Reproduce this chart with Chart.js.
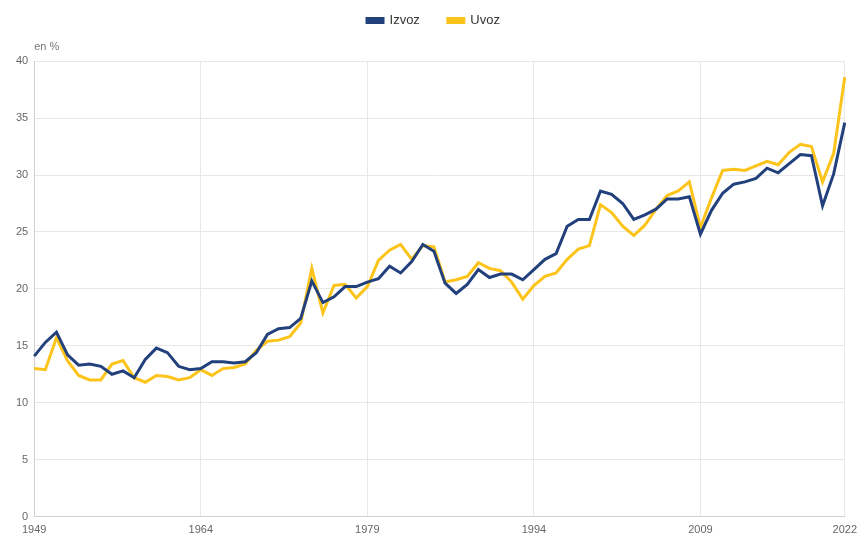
<!DOCTYPE html>
<html>
<head>
<meta charset="utf-8">
<script src="https://cdn.jsdelivr.net/npm/chart.js@4/dist/chart.umd.min.js"></script>
<style>
html,body{margin:0;padding:0;background:#fff;}
#wrap{width:857px;height:537px;}
</style>
</head>
<body>
<div id="wrap"><canvas id="c" width="857" height="537"></canvas></div>
<script>
const years = [];
for (let y = 1949; y <= 2022; y++) years.push(String(y));
const tickYears = ['1949','1964','1979','1994','2009','2022'];
const izvoz = [14.1,15.3,16.2,14.2,13.3,13.4,13.2,12.5,12.8,12.2,13.8,14.8,14.4,13.2,12.9,13.0,13.6,13.6,13.5,13.6,
14.4,16.0,16.5,16.6,17.4,20.7,18.8,19.3,20.2,20.2,20.6,20.9,22.0,21.4,22.4,23.9,23.3,20.5,19.6,20.4,
21.7,21.0,21.3,21.3,20.8,21.7,22.6,23.1,25.5,26.1,26.1,28.6,28.3,27.5,26.1,26.5,27.0,27.9,27.9,28.1,
24.8,26.9,28.4,29.2,29.4,29.7,30.6,30.2,31.0,31.8,31.7,27.3,30.1,34.6];
const uvoz = [13.0,12.9,15.7,13.7,12.4,12.0,12.0,13.4,13.7,12.2,11.8,12.4,12.3,12.0,12.2,12.9,12.4,13.0,13.1,13.4,
14.6,15.4,15.5,15.8,17.0,21.8,17.9,20.3,20.4,19.2,20.2,22.5,23.4,23.9,22.6,23.8,23.7,20.6,20.8,21.1,
22.3,21.8,21.6,20.6,19.1,20.3,21.1,21.4,22.6,23.5,23.8,27.4,26.7,25.5,24.7,25.6,27.0,28.2,28.6,29.4,
25.4,28.0,30.4,30.5,30.4,30.8,31.2,30.9,32.0,32.7,32.5,29.4,31.9,38.6];
const seriesNames = ['Izvoz','Uvoz'];
const unitLabel = 'en %';

Chart.defaults.font.family = "'Liberation Sans', Arial, sans-serif";
new Chart(document.getElementById('c'), {
  type: 'line',
  data: {
    labels: years,
    datasets: [
      {label: seriesNames[0], data: izvoz, borderColor: '#22407c', backgroundColor: '#22407c', borderWidth: 3, pointRadius: 0, tension: 0},
      {label: seriesNames[1], data: uvoz, borderColor: '#fcc41a', backgroundColor: '#fcc41a', borderWidth: 3, pointRadius: 0, tension: 0}
    ]
  },
  options: {
    responsive: false,
    animation: false,
    layout: {padding: {left: 10, right: 0, top: -14, bottom: -6}},
    plugins: {
      legend: {
        position: 'top',
        labels: {boxWidth: 16, boxHeight: 4, color: '#333', font: {size: 13}, padding: 28}
      },
      title: {
        display: true, text: unitLabel, position: 'top', align: 'start', fullSize: false, weight: 500,
        color: '#777', font: {size: 11, weight: 'normal'}, padding: {top: 3, bottom: 8}
      },
      tooltip: {enabled: false}
    },
    scales: {
      x: {
        grid: {color: '#e8e8e8', drawTicks: false},
        border: {color: '#d0d0d0'},
        ticks: {
          autoSkip: false, maxRotation: 0, color: '#666', font: {size: 11, lineHeight: 2.4}, padding: 0,
          callback: function(v){ const l = this.getLabelForValue(v); return tickYears.includes(l) ? l : null; }
        }
      },
      y: {
        min: 0, max: 40,
        grid: {color: '#e8e8e8', drawTicks: false},
        border: {color: '#d0d0d0'},
        ticks: {stepSize: 5, color: '#666', font: {size: 11}, padding: 6}
      }
    }
  }
});
</script>
</body>
</html>
